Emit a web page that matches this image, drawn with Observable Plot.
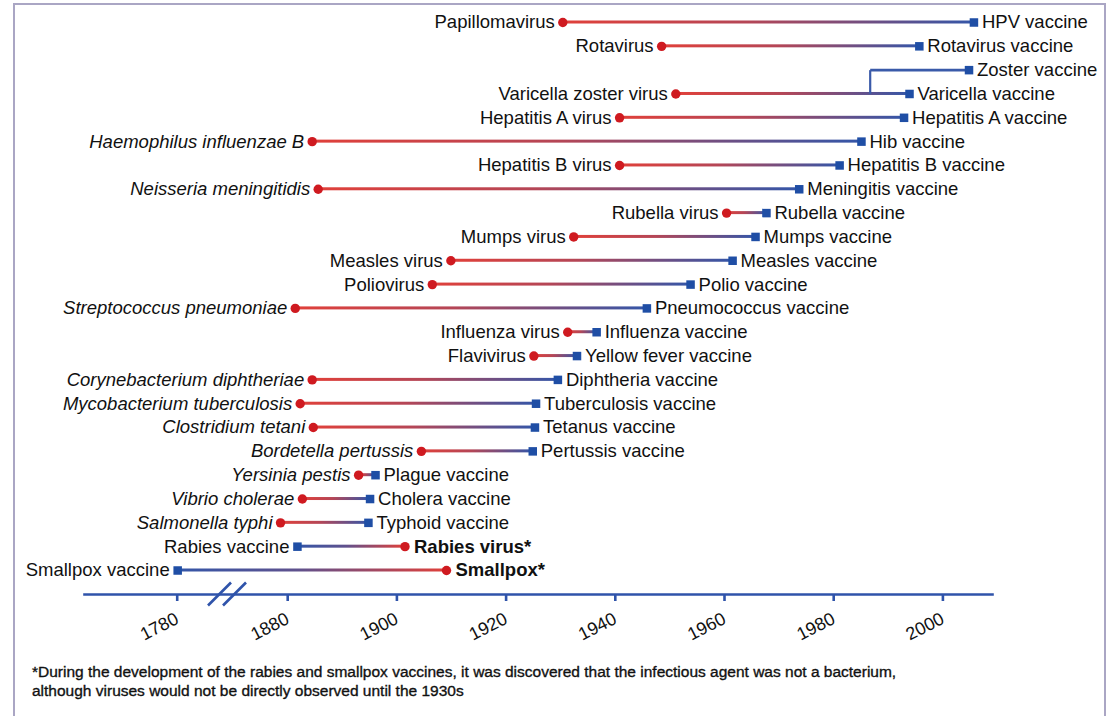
<!DOCTYPE html>
<html>
<head>
<meta charset="utf-8">
<script src="https://cdn.jsdelivr.net/npm/d3@7"></script>
<script src="https://cdn.jsdelivr.net/npm/@observablehq/plot@0.6"></script>
<style>
html, body { margin: 0; padding: 0; background: #fff; }
#wrap { position: relative; width: 1113px; height: 716px; overflow: hidden; font-family: "Liberation Sans", Arial, sans-serif; background: #fff; }
#border { position: absolute; left: 13px; top: 3px; width: 1093px; height: 730px; border: 2px solid #aaa6c4; box-sizing: border-box; }
#chart { position: absolute; left: 0; top: 0; }
#caption { position: absolute; left: 32px; top: 662px; font-size: 15.5px; line-height: 19px; color: #111; -webkit-text-stroke: 0.35px #111; }
</style>
</head>
<body>
<div id="wrap"><div id="border"></div><div id="chart"></div><div id="caption"></div></div>
<script>
// ---- data ----
const vaccines = ["HPV vaccine", "Rotavirus vaccine", "Varicella vaccine", "Hepatitis A vaccine", "Hib vaccine",
  "Hepatitis B vaccine", "Meningitis vaccine", "Rubella vaccine", "Mumps vaccine", "Measles vaccine",
  "Polio vaccine", "Pneumococcus vaccine", "Influenza vaccine", "Yellow fever vaccine", "Diphtheria vaccine",
  "Tuberculosis vaccine", "Tetanus vaccine", "Pertussis vaccine", "Plague vaccine", "Cholera vaccine",
  "Typhoid vaccine", "Rabies vaccine", "Smallpox vaccine"];
const vaccineYears = [2006.6, 1996.6, 1994.8, 1993.8, 1986, 1982, 1974.6, 1968.6, 1966.6, 1962.4,
  1954.7, 1946.7, 1937.5, 1933.9, 1930.4, 1926.4, 1926.2, 1925.8, 1897, 1896, 1895.7, 1882.7, 1781];
const pathogens = ["Papillomavirus", "Rotavirus", "Varicella zoster virus", "Hepatitis A virus",
  "Haemophilus influenzae B", "Hepatitis B virus", "Neisseria meningitidis", "Rubella virus", "Mumps virus",
  "Measles virus", "Poliovirus", "Streptococcus pneumoniae", "Influenza virus", "Flavivirus",
  "Corynebacterium diphtheriae", "Mycobacterium tuberculosis", "Clostridium tetani", "Bordetella pertussis",
  "Yersinia pestis", "Vibrio cholerae", "Salmonella typhi", "Rabies virus*", "Smallpox*"];
const pathogenYears = [1931.3, 1949.4, 1952, 1941.7, 1885.4, 1941.7, 1886.5, 1961.3, 1933.3, 1910.8,
  1907.4, 1882.3, 1932.2, 1926, 1885.4, 1883.2, 1885.6, 1905.4, 1893.9, 1883.6, 1879.6, 1902.4, 1910];
const bacteria = ["Haemophilus influenzae B", "Neisseria meningitidis", "Streptococcus pneumoniae",
  "Corynebacterium diphtheriae", "Mycobacterium tuberculosis", "Clostridium tetani", "Bordetella pertussis",
  "Yersinia pestis", "Vibrio cholerae", "Salmonella typhi"];
// Zoster vaccine branches off the varicella line
const zosterVaccine = "Zoster vaccine";
const zosterYear = 2005.7;
const zosterBranchYear = 1987.6;
const zosterParent = "Varicella vaccine";
const tickYears = [1780, 1880, 1900, 1920, 1940, 1960, 1980, 2000];
const captionLines = [
  "*During the development of the rabies and smallpox vaccines, it was discovered that the infectious agent was not a bacterium,",
  "although viruses would not be directly observed until the 1930s"
];

// ---- derived tables ----
const rows = vaccines.map((v, i) => ({vaccine: v, vYear: vaccineYears[i], pathogen: pathogens[i], pYear: pathogenYears[i]}));
const fwd = rows.filter(d => d.pYear < d.vYear);
const rev = rows.filter(d => d.pYear >= d.vYear);
const zoster = [{vaccine: zosterVaccine, vYear: zosterYear, branch: zosterBranchYear, from: zosterParent}];
const rowOrder = [...vaccines.slice(0, 2), zosterVaccine, ...vaccines.slice(2)];
const isBact = d => bacteria.includes(d.pathogen);

const RED = "#cf1a20", BLUE = "#1f4ea5", AXIS = "#2f53aa", TXT = "#111";
const FS = 18.5;

const chart = Plot.plot({
  width: 1113,
  height: 645,
  marginTop: 0,
  marginLeft: 84,
  marginRight: 121,
  marginBottom: 51,
  style: {fontFamily: "'Liberation Sans', Arial, sans-serif", background: "transparent"},
  x: {type: "linear", domain: [1764, 1790, 1870, 2010], range: [84.2, 226.4, 227.6, 992]},
  y: {type: "point", domain: rowOrder, range: [22, 570], padding: 0, round: false, axis: null},
  marks: [
    Plot.frame({anchor: "bottom", stroke: AXIS, strokeWidth: 2.6}),
    Plot.axisX({ticks: tickYears, tickFormat: d => String(d), tickSize: 7, tickPadding: 16, tickRotate: -27, dx: 5,
      stroke: AXIS, strokeWidth: 2.6, fill: TXT, fontSize: 18}),
    // connecting lines (gradient pathogen -> vaccine)
    Plot.rect(fwd, {x1: "pYear", x2: "vYear", y1: "vaccine", y2: "vaccine", fill: "url(#gradRB)", insetTop: -1.5, insetBottom: -1.5}),
    Plot.rect(rev, {x1: "vYear", x2: "pYear", y1: "vaccine", y2: "vaccine", fill: "url(#gradBR)", insetTop: -1.5, insetBottom: -1.5}),
    Plot.link(zoster, {x1: "branch", x2: "branch", y1: "from", y2: "vaccine", stroke: "#3a5aa9", strokeWidth: 2.2}),
    Plot.link(zoster, {x1: "branch", x2: "vYear", y1: "vaccine", y2: "vaccine", stroke: "#3a5aa9", strokeWidth: 2.8}),
    // endpoints
    Plot.dot(rows, {x: "pYear", y: "vaccine", r: 4.7, fill: RED, stroke: "none"}),
    Plot.dot([...rows, ...zoster], {x: "vYear", y: "vaccine", symbol: "square", r: 4.8, fill: BLUE, stroke: "none"}),
    // labels: pathogens
    Plot.text(fwd.filter(d => !isBact(d)), {x: "pYear", y: "vaccine", text: "pathogen", textAnchor: "end", dx: -8, fontSize: FS, fill: TXT}),
    Plot.text(fwd.filter(isBact), {x: "pYear", y: "vaccine", text: "pathogen", textAnchor: "end", dx: -8, fontSize: FS, fill: TXT, fontStyle: "italic"}),
    Plot.text(rev, {x: "pYear", y: "vaccine", text: "pathogen", textAnchor: "start", dx: 9, fontSize: FS, fill: TXT, fontWeight: "bold"}),
    // labels: vaccines
    Plot.text([...fwd, ...zoster], {x: "vYear", y: "vaccine", text: "vaccine", textAnchor: "start", dx: 8, fontSize: FS, fill: TXT}),
    Plot.text(rev, {x: "vYear", y: "vaccine", text: "vaccine", textAnchor: "end", dx: -8, fontSize: FS, fill: TXT})
  ]
});

// gradient definitions for the connecting lines
const svgSel = d3.select(chart);
const defs = svgSel.insert("defs", ":first-child");
function grad(id, c0, c1) {
  const g = defs.append("linearGradient").attr("id", id).attr("x1", "0%").attr("x2", "100%").attr("y1", "0%").attr("y2", "0%");
  g.append("stop").attr("offset", "0%").attr("stop-color", c0);
  g.append("stop").attr("offset", "45%").attr("stop-color", d3.interpolateRgb(c0, c1)(0.25));
  g.append("stop").attr("offset", "100%").attr("stop-color", c1);
}
grad("gradRB", "#e0403a", "#3456a8");
grad("gradBR", "#3456a8", "#e0403a");

// axis break marks at the gap of the piecewise x scale
const xs = chart.scale("x");
const xb = xs.apply(1830);
const yAxis = 645 - 51;
[-7.5, 7.5].forEach(off => {
  svgSel.append("line")
    .attr("x1", xb + off - 11.5).attr("y1", yAxis + 11.5)
    .attr("x2", xb + off + 11.5).attr("y2", yAxis - 11.5)
    .attr("stroke", AXIS).attr("stroke-width", 2.6);
});

document.getElementById("chart").appendChild(chart);
document.getElementById("caption").innerHTML = captionLines.join("<br>");
</script>
</body>
</html>
